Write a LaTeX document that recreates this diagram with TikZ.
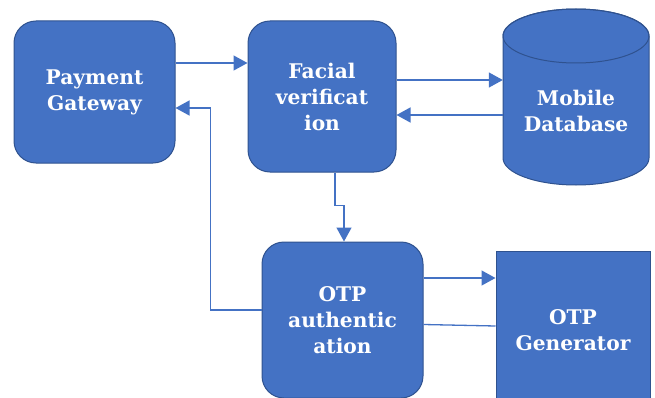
\documentclass[tikz,border=0pt]{standalone}
\usepackage{fontspec}
\setmainfont{DejaVu Serif}
\usetikzlibrary{arrows.meta}
\definecolor{boxblue}{HTML}{4472C4}
\definecolor{boxedge}{HTML}{2F528F}

\begin{document}
\begin{tikzpicture}[x=1pt,y=1pt,
  lbl/.style={text=white,font=\fontsize{20.2}{26}\selectfont\bfseries,align=center,inner sep=0pt},
  blk/.style={lbl,draw=boxedge,line width=1pt,fill=boxblue,rounded corners=22pt},
  sqblk/.style={blk,rounded corners=0pt},
  lnk/.style={draw=boxblue,line width=1.3pt},
  arr/.style={lnk,-{Triangle[length=14pt,width=15pt]}}]
\useasboundingbox (0,0) rectangle (655,397);
\clip (0,0) rectangle (655,397);

\node[blk,minimum width=161pt,minimum height=142pt] (pg) at (94.5,305) {Payment\\Gateway};
\node[blk,minimum width=148pt,minimum height=151pt] (fv) at (322,300.5) {Facial\\verificat\\ion};
\node[blk,minimum width=161pt,minimum height=156pt] (otpa) at (342.5,77) {OTP\\authentic\\ation};
\node[sqblk,minimum width=154pt,minimum height=158pt] (otpg) at (573,67) {OTP\\Generator};

% database cylinder
\node[minimum width=146pt,minimum height=176pt,inner sep=0pt] (mdb) at (576,300) {};
\path[draw=boxedge,line width=1pt,fill=boxblue] (503,361) -- (503,239)
  arc[start angle=180,end angle=360,x radius=73pt,y radius=27pt] -- (649,361)
  arc[start angle=0,end angle=180,x radius=73pt,y radius=27pt] -- cycle;
\draw[boxedge,line width=1pt] (576,361) ellipse [x radius=73pt,y radius=27pt];
\node[lbl] (mdbl) at (576,286) {Mobile\\Database};

\draw[arr] ([yshift=29pt]pg.east) -- ([yshift=33.5pt]fv.west);
\draw[arr] ([yshift=16.5pt]fv.east) -- ([yshift=17pt]mdb.west);
\draw[arr] ([yshift=-18pt]mdb.west) -- ([yshift=-18.5pt]fv.east);
\draw[arr] ([xshift=13pt]fv.south) -- ++(0,-33) -| ([xshift=1.5pt]otpa.north);
\draw[arr] ([yshift=10pt]otpa.west) -- ++(-51,0) |- ([yshift=-16pt]pg.east);
\draw[arr] ([yshift=42pt]otpa.east) -- ([yshift=52pt]otpg.west);
\draw[lnk] ([yshift=4pt]otpg.west) -- ([yshift=-4.5pt]otpa.east);
\end{tikzpicture}
\end{document}
